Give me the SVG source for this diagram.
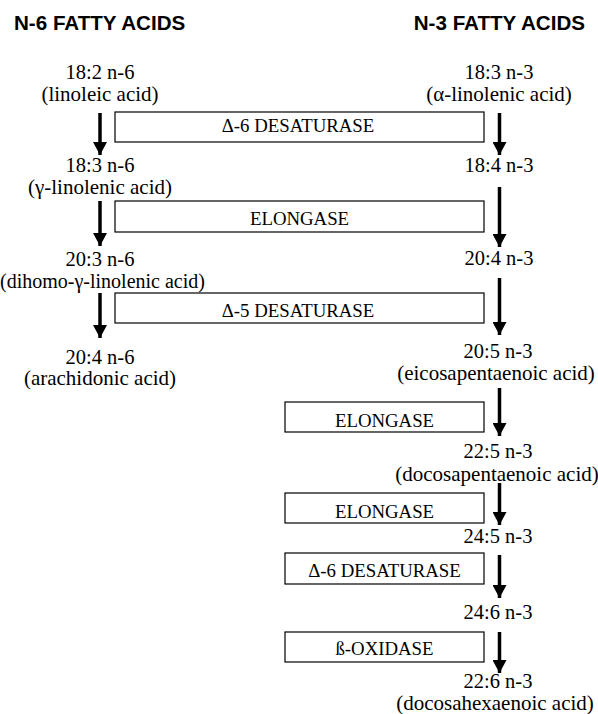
<svg xmlns="http://www.w3.org/2000/svg" width="598" height="714" viewBox="0 0 598 714">
<style>
.title{font-family:"Liberation Sans",Arial,sans-serif;font-weight:bold;font-size:20.6px;fill:#000}
.lbl{font-family:"Liberation Serif","Times New Roman",serif;font-size:20.5px;fill:#000;text-anchor:middle}
.nm{font-family:"Liberation Serif","Times New Roman",serif;font-size:21px;fill:#000;text-anchor:middle}
.enz{font-family:"Liberation Serif","Times New Roman",serif;font-size:18.8px;fill:#000;text-anchor:middle}
.box{fill:#fff;stroke:#000;stroke-width:1.2}
.arr{stroke:#000;stroke-width:3.5;fill:none;marker-end:url(#ah)}
</style>
<defs>
<marker id="ah" markerUnits="userSpaceOnUse" viewBox="0 0 13 14" refX="13" refY="7" markerWidth="13" markerHeight="14" orient="auto">
<path d="M0,0 L13,7 L0,14 z" fill="#000"/>
</marker>
</defs>
<text class="title" x="14" y="30">N-6 FATTY ACIDS</text>
<text class="title" x="585" y="30" text-anchor="end">N-3 FATTY ACIDS</text>

<g id="connectors">
<line class="arr" x1="100" y1="113" x2="100" y2="155"/>
<line class="arr" x1="100" y1="201" x2="100" y2="246"/>
<line class="arr" x1="100" y1="293" x2="100" y2="338"/>
<line class="arr" x1="499.5" y1="113" x2="499.5" y2="155"/>
<line class="arr" x1="499.5" y1="187" x2="499.5" y2="247"/>
<line class="arr" x1="499.5" y1="278" x2="499.5" y2="335"/>
<line class="arr" x1="499.5" y1="388" x2="499.5" y2="436"/>
<line class="arr" x1="499.5" y1="483" x2="499.5" y2="525"/>
<line class="arr" x1="499.5" y1="555" x2="499.5" y2="598"/>
<line class="arr" x1="499.5" y1="632" x2="499.5" y2="673"/>
</g>

<g id="n6-18-2"><text class="lbl" x="100" y="79">18:2 n-6</text><text class="nm" x="100" y="101">(linoleic acid)</text></g>
<g id="n6-18-3"><text class="lbl" x="100" y="172">18:3 n-6</text><text class="nm" x="100" y="194">(γ-linolenic acid)</text></g>
<g id="n6-20-3"><text class="lbl" x="100" y="266">20:3 n-6</text><text class="nm" x="102.5" y="288" style="font-size:20px">(dihomo-γ-linolenic acid)</text></g>
<g id="n6-20-4"><text class="lbl" x="100" y="364">20:4 n-6</text><text class="nm" x="100" y="385">(arachidonic acid)</text></g>

<g id="n3-18-3"><text class="lbl" x="499" y="79">18:3 n-3</text><text class="nm" x="499" y="101">(α-linolenic acid)</text></g>
<g id="n3-18-4"><text class="lbl" x="499" y="172">18:4 n-3</text></g>
<g id="n3-20-4"><text class="lbl" x="499" y="265">20:4 n-3</text></g>
<g id="n3-20-5"><text class="lbl" x="498" y="358">20:5 n-3</text><text class="nm" x="496" y="380">(eicosapentaenoic acid)</text></g>
<g id="n3-22-5"><text class="lbl" x="498" y="458">22:5 n-3</text><text class="nm" x="497" y="481">(docosapentaenoic acid)</text></g>
<g id="n3-24-5"><text class="lbl" x="498" y="543">24:5 n-3</text></g>
<g id="n3-24-6"><text class="lbl" x="498" y="619">24:6 n-3</text></g>
<g id="n3-22-6"><text class="lbl" x="498" y="688">22:6 n-3</text><text class="nm" x="495" y="710">(docosahexaenoic acid)</text></g>

<g id="enz-d6a"><rect class="box" x="115" y="112" width="369" height="30"/><text class="enz" x="298" y="132">Δ-6 DESATURASE</text></g>
<g id="enz-elo1"><rect class="box" x="115" y="201" width="369" height="31"/><text class="enz" x="299.5" y="225">ELONGASE</text></g>
<g id="enz-d5"><rect class="box" x="115" y="293" width="369" height="30"/><text class="enz" x="298" y="317">Δ-5 DESATURASE</text></g>
<g id="enz-elo2"><rect class="box" x="285" y="402" width="199" height="30"/><text class="enz" x="384.5" y="426.5">ELONGASE</text></g>
<g id="enz-elo3"><rect class="box" x="285" y="493" width="199" height="30"/><text class="enz" x="384.5" y="518">ELONGASE</text></g>
<g id="enz-d6b"><rect class="box" x="285" y="553" width="199" height="31"/><text class="enz" x="384.5" y="577">Δ-6 DESATURASE</text></g>
<g id="enz-box"><rect class="box" x="285" y="632" width="199" height="30"/><text class="enz" x="384.5" y="655">ß-OXIDASE</text></g>
</svg>
